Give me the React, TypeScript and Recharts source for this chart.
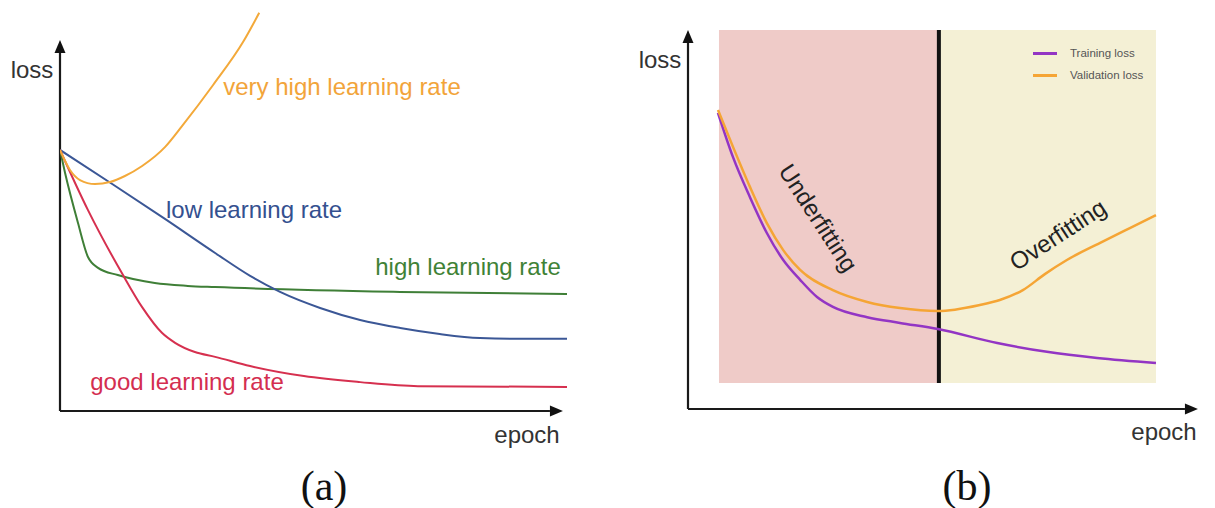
import React from 'react';
import { LineChart, Line, XAxis, YAxis, ReferenceLine, ReferenceArea, Legend } from 'recharts';

type Pt = { epoch: number; loss: number };
const toPoints = (arr: number[][]): Pt[] => arr.map(([epoch, loss]) => ({ epoch, loss }));

// (a) loss vs epoch for different learning rates
const veryHighRate = toPoints([
  [0, 65.1], [1.97, 60.1], [3.94, 57.6], [6.9, 56.6], [9.86, 57.1], [12.8, 58.6],
  [16.2, 61.1], [20.7, 65.8], [24.1, 71.1], [30.2, 81.3], [36.1, 92.0], [39.3, 99.3],
]);
const lowRate = toPoints([
  [0, 65.1], [10.3, 56.6], [20.7, 47.9], [30.6, 39.4], [37.5, 33.7], [43.4, 29.7],
  [51.3, 25.7], [59.2, 22.7], [67.1, 20.7], [74.9, 19.2], [82.8, 18.2], [90.7, 18.0], [100, 18.0],
]);
const highRate = toPoints([
  [0, 65.1], [0.99, 59.4], [3.55, 46.9], [5.52, 38.4], [7.5, 35.7], [11.4, 33.9],
  [18.7, 31.9], [25.2, 31.2], [30.6, 30.9], [67.1, 29.7], [100, 29.2],
]);
const goodRate = toPoints([
  [0, 65.1], [5.52, 50.1], [12.2, 34.4], [16.2, 25.9], [20.1, 19.5], [22.7, 17.0],
  [26.6, 14.7], [30.6, 13.5], [37.5, 11.2], [48.1, 8.7], [59.2, 7.2], [70.6, 6.2], [100, 6.0],
]);

// (b) training vs validation loss
const trainingLoss = toPoints([
  [5.86, 77.7], [8.79, 66.1], [12.1, 55.6], [15.4, 46.2], [18.6, 39.1], [21.9, 33.9],
  [25.2, 29.4], [28.3, 26.8], [35.0, 24.1], [41.4, 22.6], [48.8, 21.0], [60.4, 17.3],
  [70.1, 15.0], [79.9, 13.4], [91.4, 12.1],
]);
const validationLoss = toPoints([
  [5.86, 78.5], [8.79, 68.8], [12.1, 58.3], [15.4, 48.8], [18.6, 41.7], [21.9, 36.5],
  [28.3, 31.2], [35.0, 28.1], [41.4, 26.5], [48.8, 25.7], [57.0, 27.3], [60.9, 28.6],
  [65.4, 31.2], [69.7, 35.4], [74.0, 39.1], [80.5, 43.6], [86.3, 47.5], [91.4, 50.9],
]);
const underfitRange = [6.05, 49.0];
const overfitRange = [49.0, 91.4];
const shadeRange = [6.8, 99.5];
const axisTipA = { x: 99.2, y: 92.5 };
const axisTipB = { x: 99.6, y: 99.5 };

const FONT = '"Liberation Sans", Arial, sans-serif';

const Arrow = (props: any) => {
  const { x1, y1, x2, y2 } = props;
  const ang = Math.atan2(y2 - y1, x2 - x1);
  const len = 13;
  const half = 5.5;
  const bx = x2 - len * Math.cos(ang);
  const by = y2 - len * Math.sin(ang);
  const px = -Math.sin(ang) * half;
  const py = Math.cos(ang) * half;
  return (
    <g>
      <line x1={x1} y1={y1} x2={bx} y2={by} stroke="#1a1a1a" strokeWidth={2.2} />
      <polygon points={`${x2},${y2} ${bx + px},${by + py} ${bx - px},${by - py}`} fill="#111" />
    </g>
  );
};

const LegendRows = (props: any) => (
  <div style={{ fontFamily: FONT, fontSize: 11.5, color: '#555' }}>
    {(props.payload || []).map((p: any) => (
      <div key={p.value} style={{ display: 'flex', alignItems: 'center', height: 22 }}>
        <div style={{ width: 24, height: 3, background: p.color, marginRight: 13 }} />
        <span>{p.value}</span>
      </div>
    ))}
  </div>
);

const Txt = ({ x, y, text, color = '#333', size = 24, rotate = 0, family = FONT }: any) => (
  <div
    style={{
      position: 'absolute', left: x, top: y, whiteSpace: 'nowrap', color,
      fontFamily: family, fontSize: size, lineHeight: 1,
      transform: `translate(-50%, -50%) rotate(${rotate}deg)`,
    }}
  >
    {text}
  </div>
);

export default function App() {
  return (
    <div style={{ position: 'absolute', left: 0, top: 0, width: 1215, height: 508, background: '#fff', overflow: 'hidden' }}>
      <div style={{ position: 'absolute', left: 0, top: 0 }}>
        <LineChart width={600} height={460} margin={{ top: 10, right: 33, bottom: 49, left: 60 }}>
          <XAxis type="number" dataKey="epoch" domain={[0, 100]} allowDataOverflow hide />
          <YAxis type="number" dataKey="loss" domain={[0, 100]} allowDataOverflow hide />
          <ReferenceLine segment={[{ x: 0, y: 0 }, { x: 0, y: axisTipA.y }]} shape={Arrow} ifOverflow="visible" />
          <ReferenceLine segment={[{ x: 0, y: 0 }, { x: axisTipA.x, y: 0 }]} shape={Arrow} ifOverflow="visible" />
          <Line data={highRate} dataKey="loss" type="monotone" stroke="#3f7f37" strokeWidth={2} dot={false} isAnimationActive={false} />
          <Line data={lowRate} dataKey="loss" type="monotone" stroke="#3b5796" strokeWidth={2} dot={false} isAnimationActive={false} />
          <Line data={goodRate} dataKey="loss" type="monotone" stroke="#d6304f" strokeWidth={2} dot={false} isAnimationActive={false} />
          <Line data={veryHighRate} dataKey="loss" type="monotone" stroke="#f3a93a" strokeWidth={2} dot={false} isAnimationActive={false} />
        </LineChart>
      </div>

      <div style={{ position: 'absolute', left: 620, top: 0 }}>
        <LineChart width={595} height={460} margin={{ top: 28, right: 15, bottom: 51, left: 68 }}>
          <XAxis type="number" dataKey="epoch" domain={[0, 100]} allowDataOverflow hide />
          <YAxis type="number" dataKey="loss" domain={[0, 100]} allowDataOverflow hide />
          <ReferenceArea x1={underfitRange[0]} x2={underfitRange[1]} y1={shadeRange[0]} y2={shadeRange[1]} fill="#efcbc8" fillOpacity={1} stroke="none" />
          <ReferenceArea x1={overfitRange[0]} x2={overfitRange[1]} y1={shadeRange[0]} y2={shadeRange[1]} fill="#f4f0d5" fillOpacity={1} stroke="none" />
          <ReferenceLine segment={[{ x: underfitRange[1], y: shadeRange[0] }, { x: underfitRange[1], y: shadeRange[1] }]} stroke="#111" strokeWidth={4} ifOverflow="visible" />
          <ReferenceLine segment={[{ x: 0, y: 0 }, { x: 0, y: axisTipB.y }]} shape={Arrow} ifOverflow="visible" />
          <ReferenceLine segment={[{ x: 0, y: 0 }, { x: axisTipB.x, y: 0 }]} shape={Arrow} ifOverflow="visible" />
          <Line data={trainingLoss} dataKey="loss" name="Training loss" type="monotone" stroke="#9335c4" strokeWidth={2.5} dot={false} isAnimationActive={false} />
          <Line data={validationLoss} dataKey="loss" name="Validation loss" type="monotone" stroke="#f5a535" strokeWidth={2.5} dot={false} isAnimationActive={false} />
          <Legend layout="vertical" align="center" verticalAlign="middle" content={LegendRows}
            wrapperStyle={{ top: 42, left: 413, width: 150, height: 44 }} />
        </LineChart>
      </div>

      <Txt x={342} y={87} text="very high learning rate" color="#f2a43a" />
      <Txt x={254} y={210} text="low learning rate" color="#34508f" />
      <Txt x={468} y={267} text="high learning rate" color="#3f8236" />
      <Txt x={187} y={382} text="good learning rate" color="#d42e50" />
      <Txt x={32} y={70} text="loss" />
      <Txt x={527} y={435} text="epoch" />
      <Txt x={660} y={60} text="loss" />
      <Txt x={1164} y={432} text="epoch" />
      <Txt x={818} y={218} text="Underfitting" color="#222" rotate={57} />
      <Txt x={1058} y={235} text="Overfitting" color="#222" rotate={-33} />
      <Txt x={324} y={486} text="(a)" color="#111" size={42} family='"Liberation Serif", "Times New Roman", serif' />
      <Txt x={967} y={486} text="(b)" color="#111" size={42} family='"Liberation Serif", "Times New Roman", serif' />
    </div>
  );
}
